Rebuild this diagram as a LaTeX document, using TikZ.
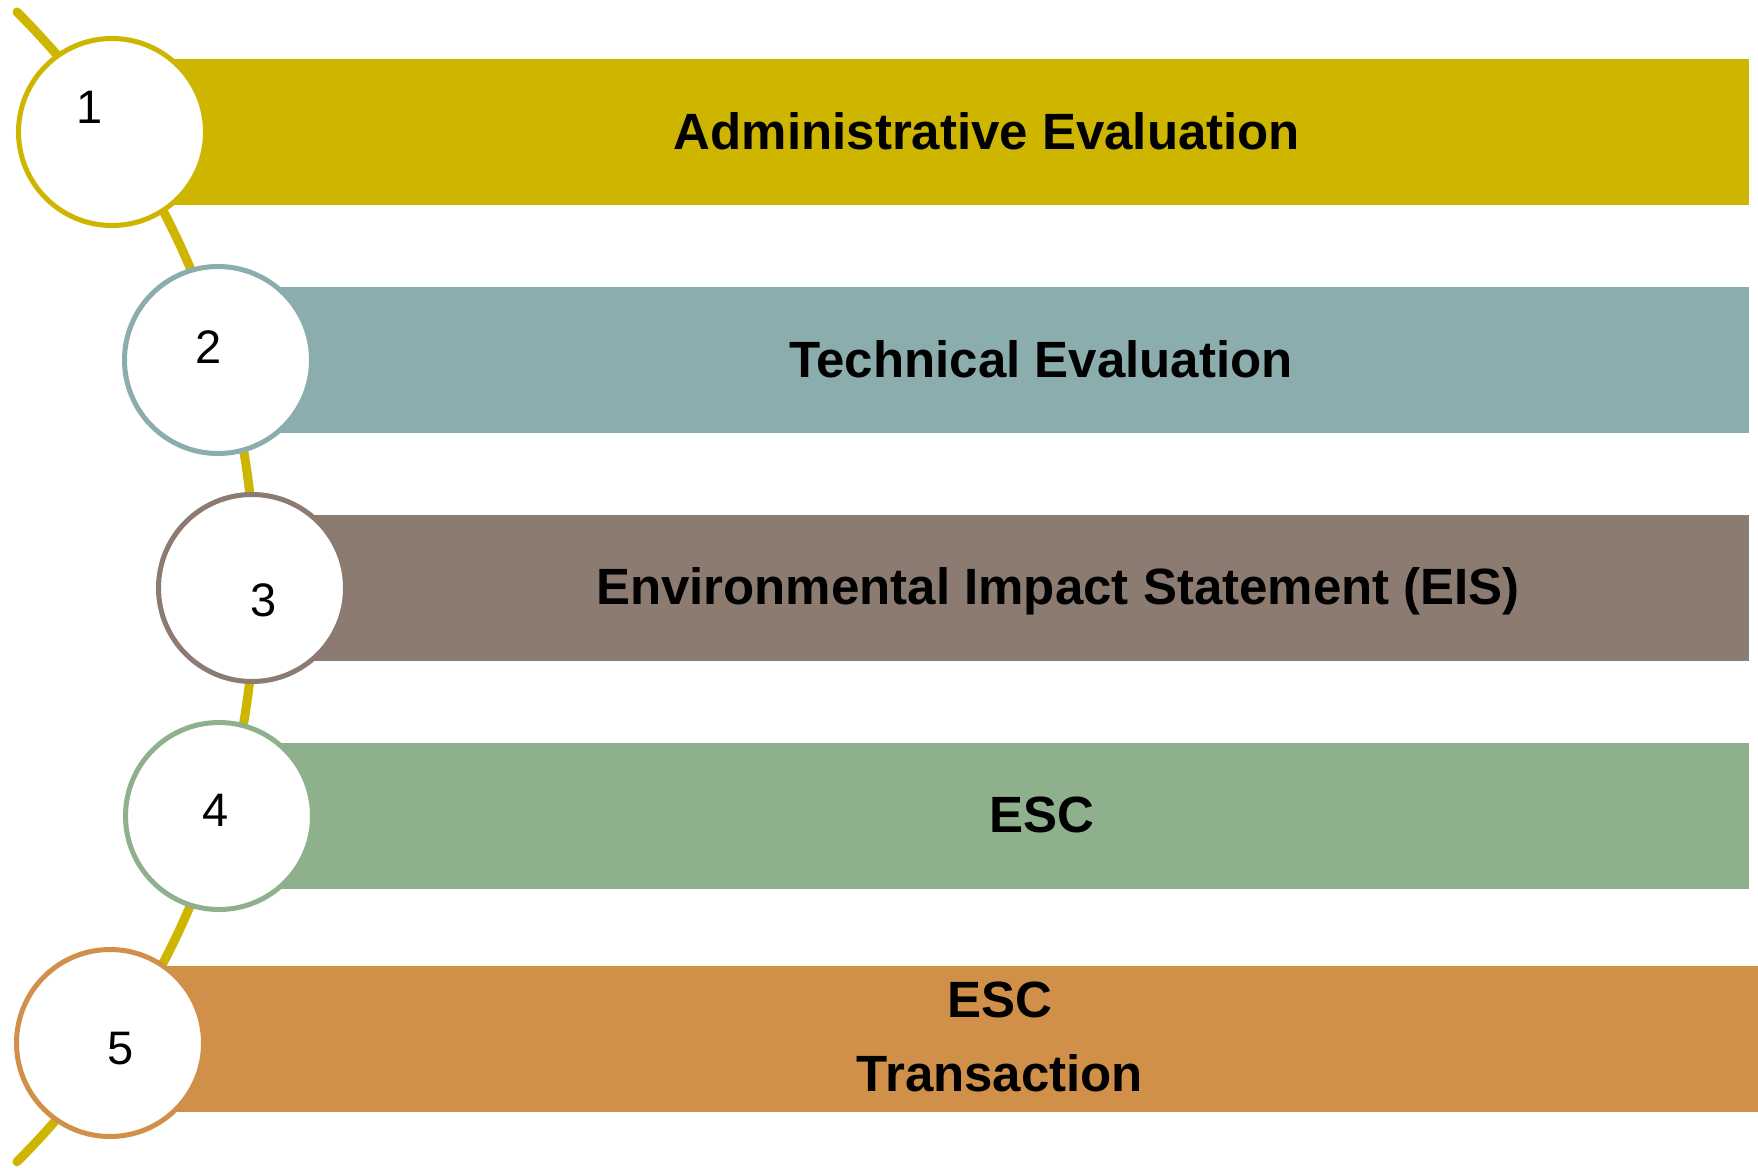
\documentclass[tikz,border=0pt]{standalone}
\usepackage{fontspec}
\setmainfont{Liberation Sans}
\definecolor{stepYellow}{HTML}{CDB500}
\definecolor{stepTeal}{HTML}{8BADAE}
\definecolor{stepBrown}{HTML}{8C7B70}
\definecolor{stepGreen}{HTML}{8FB08C}
\definecolor{stepOrange}{HTML}{D09049}

\begin{document}
\begin{tikzpicture}[x=1pt,y=-1pt,
    bar/.style={rectangle,anchor=west,inner sep=0pt,minimum height=146pt},
    disc/.style={circle,draw,line width=5pt,fill=white,inner sep=0pt,minimum size=187pt},
    num/.style={font=\fontsize{47}{56}\selectfont},
    caption/.style={font=\bfseries\fontsize{51}{74}\selectfont,align=center}]

    \useasboundingbox (0,0) rectangle (1758,1167);

    % the spine behind the circles
    \coordinate (spinetop) at (17,12);
    \draw[stepYellow,line width=9pt,line cap=round] (spinetop) arc[start angle=45,end angle=-45,radius=813pt];

    \node[bar,fill=stepYellow,minimum width=1637pt] (bar1) at (112,132) {};
    \node[bar,fill=stepTeal,minimum width=1531pt] (bar2) at (218,360) {};
    \node[bar,fill=stepBrown,minimum width=1497pt] (bar3) at (252,588) {};
    \node[bar,fill=stepGreen,minimum width=1530pt] (bar4) at (219,816) {};
    \node[bar,fill=stepOrange,minimum width=1648pt] (bar5) at (110,1039) {};

    \node[disc,draw=stepYellow] (c1) at (112,132) {};
    \node[disc,draw=stepTeal] (c2) at (218,360) {};
    \node[disc,draw=stepBrown] (c3) at (252,588) {};
    \node[disc,draw=stepGreen] (c4) at (219,816) {};
    \node[disc,draw=stepOrange] (c5) at (110,1043) {};

    \node[num] (n1) at (90,107) {1};
    \node[num] (n2) at (209,347) {2};
    \node[num] (n3) at (264,600) {3};
    \node[num] (n4) at (216,810) {4};
    \node[num] (n5) at (121,1049) {5};

    \node[caption,anchor=base] (t1) at (987,149) {Administrative Evaluation};
    \node[caption,anchor=base] (t2) at (1041,377) {Technical Evaluation};
    \node[caption,anchor=base] (t3) at (1058,604) {Environmental Impact Statement (EIS)};
    \node[caption,anchor=base] (t4) at (1042,832) {ESC};
    \node[caption] (t5) at (1000,1037) {ESC\\Transaction};
\end{tikzpicture}
\end{document}
